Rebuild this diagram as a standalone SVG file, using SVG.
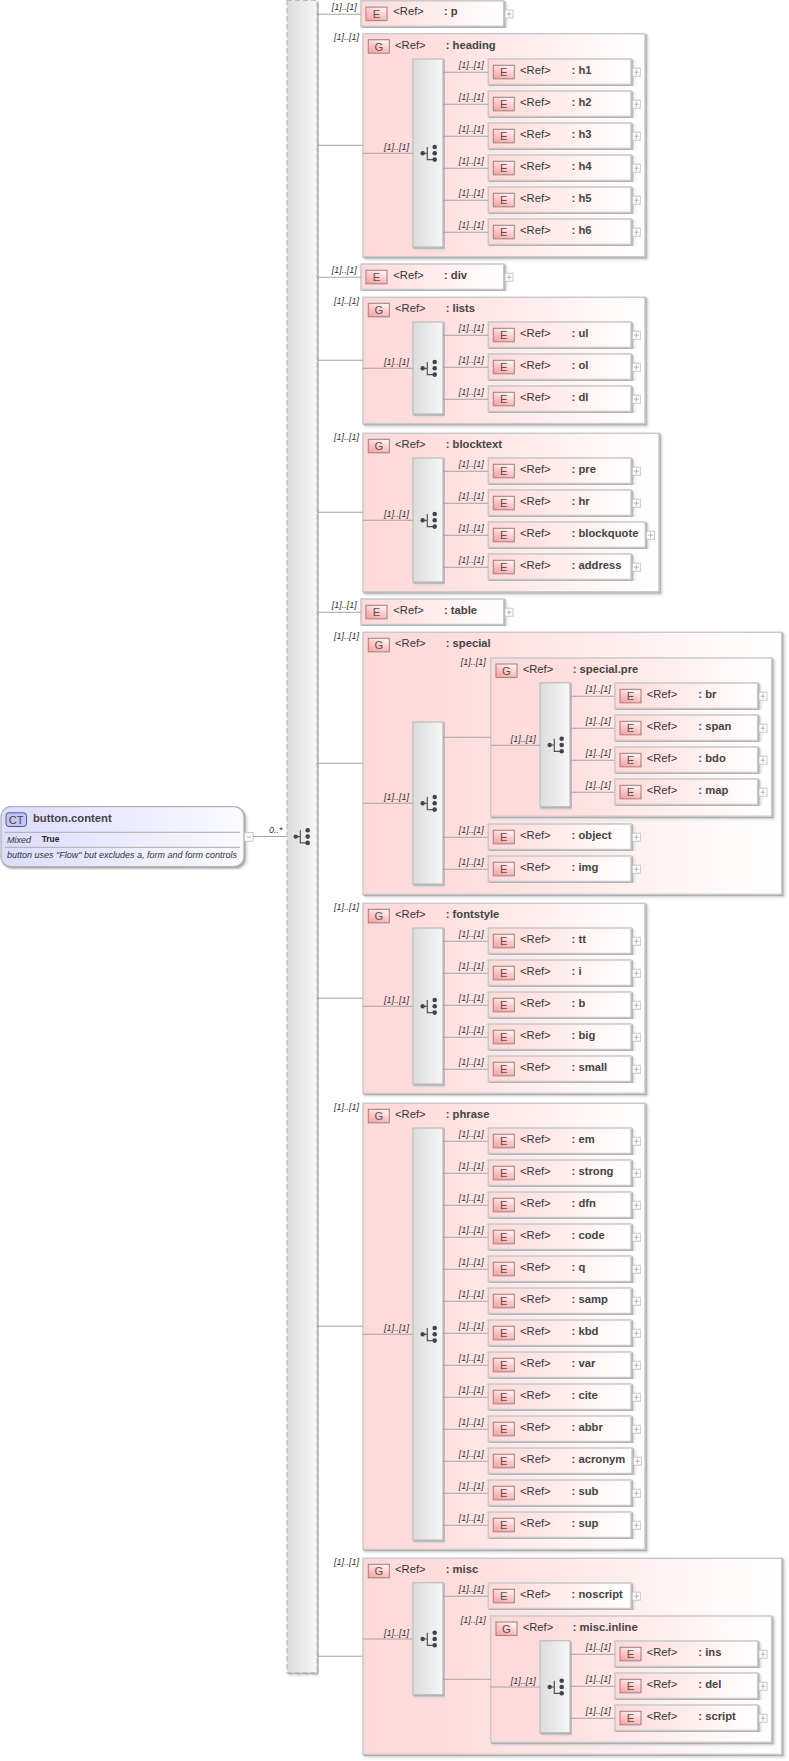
<svg xmlns="http://www.w3.org/2000/svg" width="789" height="1761" viewBox="0 0 789 1761">
<style>
text{font-family:"Liberation Sans",Arial,sans-serif}
.rf{font-size:11.24px;fill:#333}
.nm{font-size:11.24px;font-weight:bold;fill:#444}
.ic{font-size:11.24px;fill:#555;text-anchor:middle}
.m{font-size:9px;font-style:italic;fill:#333}
.conn{fill:none;stroke:#a4a4a4;stroke-width:1.1}
.box{fill:url(#pink);stroke:#c8c8c8;stroke-width:1.5;filter:url(#sh)}
.grp{fill:url(#pinkG);stroke:#cacaca;stroke-width:1.5;filter:url(#sh)}
.seq{fill:url(#gray);stroke:#c0c0c0;stroke-width:1.3;filter:url(#sh)}
.icon{fill:url(#icn);stroke:#a08888;stroke-width:1.1}
.pl{fill:#fff;stroke:#c0c0c0;stroke-width:.9}
.pm{stroke:#b0b0b0;stroke-width:.9;fill:none}
.sep{stroke:#aaa;stroke-width:1}
</style>
<defs>
<linearGradient id="pink"><stop offset="0" stop-color="#ffd9d9"/><stop offset="1" stop-color="#fff"/></linearGradient>
<linearGradient id="pinkG"><stop offset="0" stop-color="#ffd9d9"/><stop offset=".2" stop-color="#ffdcdc"/><stop offset="1" stop-color="#fff"/></linearGradient>
<linearGradient id="gray"><stop offset="0" stop-color="#dcdcdc"/><stop offset="1" stop-color="#f6f6f6"/></linearGradient>
<linearGradient id="icn" x1=".1" y1="1" x2=".6" y2="0"><stop offset="0" stop-color="#ff9e9e"/><stop offset=".55" stop-color="#ffc8c8"/><stop offset="1" stop-color="#fff0f0"/></linearGradient>
<linearGradient id="blue"><stop offset="0" stop-color="#dcdcff"/><stop offset="1" stop-color="#fafaff"/></linearGradient>
<filter id="sh" x="-5%" y="-5%" width="110%" height="110%"><feDropShadow dx="1.2" dy="1.2" stdDeviation=".3" flood-color="#aaa"/><feDropShadow dx="1.5" dy="1.5" stdDeviation=".9" flood-color="#ddd"/></filter>
<g id="plus"><rect class="pl" x=".5" y=".5" width="8" height="8"/><path class="pm" d="M2 4.5H7M4.5 2V7"/></g>
<g id="eIcon"><rect class="icon" x="5" y="6.3" width="21" height="13.5"/></g>
<g id="el"><rect class="box" width="142.7" height="25.5"/><use href="#eIcon"/><use href="#plus" x="143.5" y="8.7"/></g>
<g id="elQ"><rect class="box" width="157" height="25.5"/><use href="#eIcon"/><use href="#plus" x="157.8" y="8.7"/></g>
<g id="elA"><rect class="box" width="143.7" height="25.5"/><use href="#eIcon"/><use href="#plus" x="144.5" y="8.7"/></g>
<g id="comp" fill="#444"><path d="M9.7 .3H14.3M14.3 -6V6.6H21.7" fill="none" stroke="#555" stroke-width="1.2"/><circle cx="9.7" cy=".3" r="2.2"/><circle cx="21.7" cy="-6" r="2.3"/><circle cx="21.7" cy=".3" r="2.3"/><circle cx="21.7" cy="6.6" r="2.3"/></g>
</defs>

<g id="root-node">
<rect x="1" y="806.7" width="243" height="60" rx="10" fill="url(#blue)" stroke="#b4b4b4" stroke-width="1.3" filter="url(#sh)"/>
<rect x="6" y="812.8" width="20.5" height="13.7" rx="3" fill="#c4c4f6" stroke="#555580" stroke-width="1"/>
<text x="16.2" y="823.6" font-size="11.24" fill="#444" text-anchor="middle">CT</text>
<text x="33" y="821.5" font-size="11.24" font-weight="bold" fill="#444">button.content</text>
<path class="sep" d="M5 832.3H240M5 847.3H240"/>
<text x="7" y="842.8" font-size="9" font-style="italic" fill="#333">Mixed</text>
<text x="41.7" y="842" font-size="8.4" font-weight="bold" fill="#222">True</text>
<text x="7" y="857.8" font-size="9" font-style="italic" fill="#333">button uses "Flow" but excludes a, form and form controls</text>
<rect x="244.5" y="832.7" width="8.5" height="8.5" fill="#fff" stroke="#c0c0c0" stroke-width=".9"/>
<path class="pm" d="M246.5 837H251"/>
</g>

<g id="seq-main"><rect class="seq" x="287" y=".3" width="30" height="1672.4" stroke-dasharray="5 3"/><use href="#comp" x="286" y="836.3"/></g>

<g id="el-p" transform="translate(361,.8)"><use href="#el"/><text class="ic" x="15.5" y="17">E</text><text class="rf" x="32.3" y="14.5">&lt;Ref&gt;</text><text class="nm" x="83" y="14.5">: p</text></g>

<g id="grp-heading" transform="translate(363,33.7)"><rect class="grp" width="282" height="223"/><rect class="icon" x="5.3" y="6" width="21" height="13.5"/><text class="ic" x="15.8" y="17">G</text><text class="rf" x="32" y="15">&lt;Ref&gt;</text><text class="nm" x="82.7" y="15">: heading</text></g>
<g id="seq-heading" transform="translate(413,59)"><rect class="seq" width="30" height="188"/><use href="#comp" y="94"/></g>
<g id="el-h1" transform="translate(488.3,59)"><use href="#el"/><text class="ic" x="15.5" y="17">E</text><text class="rf" x="31.7" y="15">&lt;Ref&gt;</text><text class="nm" x="83.3" y="15">: h1</text></g>
<g id="el-h2" transform="translate(488.3,91)"><use href="#el"/><text class="ic" x="15.5" y="17">E</text><text class="rf" x="31.7" y="15">&lt;Ref&gt;</text><text class="nm" x="83.3" y="15">: h2</text></g>
<g id="el-h3" transform="translate(488.3,123)"><use href="#el"/><text class="ic" x="15.5" y="17">E</text><text class="rf" x="31.7" y="15">&lt;Ref&gt;</text><text class="nm" x="83.3" y="15">: h3</text></g>
<g id="el-h4" transform="translate(488.3,155)"><use href="#el"/><text class="ic" x="15.5" y="17">E</text><text class="rf" x="31.7" y="15">&lt;Ref&gt;</text><text class="nm" x="83.3" y="15">: h4</text></g>
<g id="el-h5" transform="translate(488.3,187)"><use href="#el"/><text class="ic" x="15.5" y="17">E</text><text class="rf" x="31.7" y="15">&lt;Ref&gt;</text><text class="nm" x="83.3" y="15">: h5</text></g>
<g id="el-h6" transform="translate(488.3,219)"><use href="#el"/><text class="ic" x="15.5" y="17">E</text><text class="rf" x="31.7" y="15">&lt;Ref&gt;</text><text class="nm" x="83.3" y="15">: h6</text></g>

<g id="el-div" transform="translate(361,264)"><use href="#el"/><text class="ic" x="15.5" y="17">E</text><text class="rf" x="32.3" y="14.5">&lt;Ref&gt;</text><text class="nm" x="83" y="14.5">: div</text></g>

<g id="grp-lists" transform="translate(363,297.3)"><rect class="grp" width="282" height="126.3"/><rect class="icon" x="5.3" y="6" width="21" height="13.5"/><text class="ic" x="15.8" y="17">G</text><text class="rf" x="32" y="15">&lt;Ref&gt;</text><text class="nm" x="82.7" y="15">: lists</text></g>
<g id="seq-lists" transform="translate(413,322)"><rect class="seq" width="30" height="92"/><use href="#comp" y="46"/></g>
<g id="el-ul" transform="translate(488.3,322)"><use href="#el"/><text class="ic" x="15.5" y="17">E</text><text class="rf" x="31.7" y="15">&lt;Ref&gt;</text><text class="nm" x="83.3" y="15">: ul</text></g>
<g id="el-ol" transform="translate(488.3,354)"><use href="#el"/><text class="ic" x="15.5" y="17">E</text><text class="rf" x="31.7" y="15">&lt;Ref&gt;</text><text class="nm" x="83.3" y="15">: ol</text></g>
<g id="el-dl" transform="translate(488.3,386)"><use href="#el"/><text class="ic" x="15.5" y="17">E</text><text class="rf" x="31.7" y="15">&lt;Ref&gt;</text><text class="nm" x="83.3" y="15">: dl</text></g>

<g id="grp-blocktext" transform="translate(363,433.3)"><rect class="grp" width="296" height="158.5"/><rect class="icon" x="5.3" y="6" width="21" height="13.5"/><text class="ic" x="15.8" y="17">G</text><text class="rf" x="32" y="15">&lt;Ref&gt;</text><text class="nm" x="82.7" y="15">: blocktext</text></g>
<g id="seq-blocktext" transform="translate(413,458)"><rect class="seq" width="30" height="124"/><use href="#comp" y="62"/></g>
<g id="el-pre" transform="translate(488.3,458)"><use href="#el"/><text class="ic" x="15.5" y="17">E</text><text class="rf" x="31.7" y="15">&lt;Ref&gt;</text><text class="nm" x="83.3" y="15">: pre</text></g>
<g id="el-hr" transform="translate(488.3,490)"><use href="#el"/><text class="ic" x="15.5" y="17">E</text><text class="rf" x="31.7" y="15">&lt;Ref&gt;</text><text class="nm" x="83.3" y="15">: hr</text></g>
<g id="el-blockquote" transform="translate(488.3,522)"><use href="#elQ"/><text class="ic" x="15.5" y="17">E</text><text class="rf" x="31.7" y="15">&lt;Ref&gt;</text><text class="nm" x="83.3" y="15">: blockquote</text></g>
<g id="el-address" transform="translate(488.3,554)"><use href="#el"/><text class="ic" x="15.5" y="17">E</text><text class="rf" x="31.7" y="15">&lt;Ref&gt;</text><text class="nm" x="83.3" y="15">: address</text></g>

<g id="el-table" transform="translate(361,599)"><use href="#el"/><text class="ic" x="15.5" y="17">E</text><text class="rf" x="32.3" y="14.5">&lt;Ref&gt;</text><text class="nm" x="83" y="14.5">: table</text></g>

<g id="grp-special" transform="translate(363,632.3)"><rect class="grp" width="418.7" height="262"/><rect class="icon" x="5.3" y="6" width="21" height="13.5"/><text class="ic" x="15.8" y="17">G</text><text class="rf" x="32" y="15">&lt;Ref&gt;</text><text class="nm" x="82.7" y="15">: special</text></g>
<g id="seq-special" transform="translate(413,722)"><rect class="seq" width="30" height="162"/><use href="#comp" y="81"/></g>
<g id="grp-special-pre" transform="translate(490.7,658)"><rect class="grp" width="281" height="158.3"/><rect class="icon" x="5.3" y="6" width="21" height="13.5"/><text class="ic" x="15.8" y="17">G</text><text class="rf" x="32" y="15">&lt;Ref&gt;</text><text class="nm" x="82" y="15">: special.pre</text></g>
<g id="seq-special-pre" transform="translate(540,682.7)"><rect class="seq" width="30" height="124"/><use href="#comp" y="62"/></g>
<g id="el-br" transform="translate(615,683)"><use href="#el"/><text class="ic" x="15.5" y="17">E</text><text class="rf" x="31.7" y="15">&lt;Ref&gt;</text><text class="nm" x="83.3" y="15">: br</text></g>
<g id="el-span" transform="translate(615,715)"><use href="#el"/><text class="ic" x="15.5" y="17">E</text><text class="rf" x="31.7" y="15">&lt;Ref&gt;</text><text class="nm" x="83.3" y="15">: span</text></g>
<g id="el-bdo" transform="translate(615,747)"><use href="#el"/><text class="ic" x="15.5" y="17">E</text><text class="rf" x="31.7" y="15">&lt;Ref&gt;</text><text class="nm" x="83.3" y="15">: bdo</text></g>
<g id="el-map" transform="translate(615,779)"><use href="#el"/><text class="ic" x="15.5" y="17">E</text><text class="rf" x="31.7" y="15">&lt;Ref&gt;</text><text class="nm" x="83.3" y="15">: map</text></g>
<g id="el-object" transform="translate(488.3,824)"><use href="#el"/><text class="ic" x="15.5" y="17">E</text><text class="rf" x="31.7" y="15">&lt;Ref&gt;</text><text class="nm" x="83.3" y="15">: object</text></g>
<g id="el-img" transform="translate(488.3,856)"><use href="#el"/><text class="ic" x="15.5" y="17">E</text><text class="rf" x="31.7" y="15">&lt;Ref&gt;</text><text class="nm" x="83.3" y="15">: img</text></g>

<g id="grp-fontstyle" transform="translate(363,903.3)"><rect class="grp" width="282" height="190"/><rect class="icon" x="5.3" y="6" width="21" height="13.5"/><text class="ic" x="15.8" y="17">G</text><text class="rf" x="32" y="15">&lt;Ref&gt;</text><text class="nm" x="82.7" y="15">: fontstyle</text></g>
<g id="seq-fontstyle" transform="translate(413,928)"><rect class="seq" width="30" height="156"/><use href="#comp" y="78"/></g>
<g id="el-tt" transform="translate(488.3,928)"><use href="#el"/><text class="ic" x="15.5" y="17">E</text><text class="rf" x="31.7" y="15">&lt;Ref&gt;</text><text class="nm" x="83.3" y="15">: tt</text></g>
<g id="el-i" transform="translate(488.3,960)"><use href="#el"/><text class="ic" x="15.5" y="17">E</text><text class="rf" x="31.7" y="15">&lt;Ref&gt;</text><text class="nm" x="83.3" y="15">: i</text></g>
<g id="el-b" transform="translate(488.3,992)"><use href="#el"/><text class="ic" x="15.5" y="17">E</text><text class="rf" x="31.7" y="15">&lt;Ref&gt;</text><text class="nm" x="83.3" y="15">: b</text></g>
<g id="el-big" transform="translate(488.3,1024)"><use href="#el"/><text class="ic" x="15.5" y="17">E</text><text class="rf" x="31.7" y="15">&lt;Ref&gt;</text><text class="nm" x="83.3" y="15">: big</text></g>
<g id="el-small" transform="translate(488.3,1056)"><use href="#el"/><text class="ic" x="15.5" y="17">E</text><text class="rf" x="31.7" y="15">&lt;Ref&gt;</text><text class="nm" x="83.3" y="15">: small</text></g>

<g id="grp-phrase" transform="translate(363,1103.3)"><rect class="grp" width="282" height="446"/><rect class="icon" x="5.3" y="6" width="21" height="13.5"/><text class="ic" x="15.8" y="17">G</text><text class="rf" x="32" y="15">&lt;Ref&gt;</text><text class="nm" x="82.7" y="15">: phrase</text></g>
<g id="seq-phrase" transform="translate(413,1128)"><rect class="seq" width="30" height="412"/><use href="#comp" y="206"/></g>
<g id="el-em" transform="translate(488.3,1128)"><use href="#el"/><text class="ic" x="15.5" y="17">E</text><text class="rf" x="31.7" y="15">&lt;Ref&gt;</text><text class="nm" x="83.3" y="15">: em</text></g>
<g id="el-strong" transform="translate(488.3,1160)"><use href="#el"/><text class="ic" x="15.5" y="17">E</text><text class="rf" x="31.7" y="15">&lt;Ref&gt;</text><text class="nm" x="83.3" y="15">: strong</text></g>
<g id="el-dfn" transform="translate(488.3,1192)"><use href="#el"/><text class="ic" x="15.5" y="17">E</text><text class="rf" x="31.7" y="15">&lt;Ref&gt;</text><text class="nm" x="83.3" y="15">: dfn</text></g>
<g id="el-code" transform="translate(488.3,1224)"><use href="#el"/><text class="ic" x="15.5" y="17">E</text><text class="rf" x="31.7" y="15">&lt;Ref&gt;</text><text class="nm" x="83.3" y="15">: code</text></g>
<g id="el-q" transform="translate(488.3,1256)"><use href="#el"/><text class="ic" x="15.5" y="17">E</text><text class="rf" x="31.7" y="15">&lt;Ref&gt;</text><text class="nm" x="83.3" y="15">: q</text></g>
<g id="el-samp" transform="translate(488.3,1288)"><use href="#el"/><text class="ic" x="15.5" y="17">E</text><text class="rf" x="31.7" y="15">&lt;Ref&gt;</text><text class="nm" x="83.3" y="15">: samp</text></g>
<g id="el-kbd" transform="translate(488.3,1320)"><use href="#el"/><text class="ic" x="15.5" y="17">E</text><text class="rf" x="31.7" y="15">&lt;Ref&gt;</text><text class="nm" x="83.3" y="15">: kbd</text></g>
<g id="el-var" transform="translate(488.3,1352)"><use href="#el"/><text class="ic" x="15.5" y="17">E</text><text class="rf" x="31.7" y="15">&lt;Ref&gt;</text><text class="nm" x="83.3" y="15">: var</text></g>
<g id="el-cite" transform="translate(488.3,1384)"><use href="#el"/><text class="ic" x="15.5" y="17">E</text><text class="rf" x="31.7" y="15">&lt;Ref&gt;</text><text class="nm" x="83.3" y="15">: cite</text></g>
<g id="el-abbr" transform="translate(488.3,1416)"><use href="#el"/><text class="ic" x="15.5" y="17">E</text><text class="rf" x="31.7" y="15">&lt;Ref&gt;</text><text class="nm" x="83.3" y="15">: abbr</text></g>
<g id="el-acronym" transform="translate(488.3,1448)"><use href="#elA"/><text class="ic" x="15.5" y="17">E</text><text class="rf" x="31.7" y="15">&lt;Ref&gt;</text><text class="nm" x="83.3" y="15">: acronym</text></g>
<g id="el-sub" transform="translate(488.3,1480)"><use href="#el"/><text class="ic" x="15.5" y="17">E</text><text class="rf" x="31.7" y="15">&lt;Ref&gt;</text><text class="nm" x="83.3" y="15">: sub</text></g>
<g id="el-sup" transform="translate(488.3,1512)"><use href="#el"/><text class="ic" x="15.5" y="17">E</text><text class="rf" x="31.7" y="15">&lt;Ref&gt;</text><text class="nm" x="83.3" y="15">: sup</text></g>

<g id="grp-misc" transform="translate(363,1558.3)"><rect class="grp" width="418.7" height="196"/><rect class="icon" x="5.3" y="6" width="21" height="13.5"/><text class="ic" x="15.8" y="17">G</text><text class="rf" x="32" y="15">&lt;Ref&gt;</text><text class="nm" x="82.7" y="15">: misc</text></g>
<g id="seq-misc" transform="translate(413,1582.7)"><rect class="seq" width="30" height="112"/><use href="#comp" y="56"/></g>
<g id="el-noscript" transform="translate(488.3,1583)"><use href="#el"/><text class="ic" x="15.5" y="17">E</text><text class="rf" x="31.7" y="15">&lt;Ref&gt;</text><text class="nm" x="83.3" y="15">: noscript</text></g>
<g id="grp-misc-inline" transform="translate(490.7,1616)"><rect class="grp" width="281" height="126.3"/><rect class="icon" x="5.3" y="6" width="21" height="13.5"/><text class="ic" x="15.8" y="17">G</text><text class="rf" x="32" y="15">&lt;Ref&gt;</text><text class="nm" x="82" y="15">: misc.inline</text></g>
<g id="seq-misc-inline" transform="translate(540,1640.7)"><rect class="seq" width="30" height="92"/><use href="#comp" y="46"/></g>
<g id="el-ins" transform="translate(615,1641)"><use href="#el"/><text class="ic" x="15.5" y="17">E</text><text class="rf" x="31.7" y="15">&lt;Ref&gt;</text><text class="nm" x="83.3" y="15">: ins</text></g>
<g id="el-del" transform="translate(615,1673)"><use href="#el"/><text class="ic" x="15.5" y="17">E</text><text class="rf" x="31.7" y="15">&lt;Ref&gt;</text><text class="nm" x="83.3" y="15">: del</text></g>
<g id="el-script" transform="translate(615,1705)"><use href="#el"/><text class="ic" x="15.5" y="17">E</text><text class="rf" x="31.7" y="15">&lt;Ref&gt;</text><text class="nm" x="83.3" y="15">: script</text></g>

<g id="connectors">
<path class="conn" d="M253 836.5H287
M317 14.3H361M317 277.3H361M317 612.3H361
M317 145.3H363M317 360.3H363M317 512.3H363M317 763.3H363M317 998.3H363M317 1326.3H363M317 1656.3H363
M363 153.3H413M363 368.3H413M363 520.3H413M363 803.3H413M363 1006.3H413M363 1334.3H413M363 1639H413
M491 745.3H540M491 1687H540
M443 737.3H491M443 1679.3H491
M443 72.3H488M443 104.3H488M443 136.3H488M443 168.3H488M443 200.3H488M443 232.3H488
M443 335.3H488M443 367.3H488M443 399.3H488
M443 471.3H488M443 503.3H488M443 535.3H488M443 567.3H488
M443 837.3H488M443 869.3H488
M570 696.3H615M570 728.3H615M570 760.3H615M570 792.3H615
M443 941.3H488M443 973.3H488M443 1005.3H488M443 1037.3H488M443 1069.3H488
M443 1141.3H488M443 1173.3H488M443 1205.3H488M443 1237.3H488M443 1269.3H488M443 1301.3H488M443 1333.3H488M443 1365.3H488M443 1397.3H488M443 1429.3H488M443 1461.3H488M443 1493.3H488M443 1525.3H488
M443 1596.3H488
M570 1654.3H615M570 1686.3H615M570 1718.3H615"/>
<text class="m" x="269" y="832.7">0..*</text>
<text class="m" x="331.7" y="10.4">[1]..[1]</text>
<text class="m" x="334" y="40.4">[1]..[1]</text>
<text class="m" x="384" y="149.7">[1]..[1]</text>
<text class="m" x="458.7" y="68.4">[1]..[1]</text>
<text class="m" x="458.7" y="100.4">[1]..[1]</text>
<text class="m" x="458.7" y="132.4">[1]..[1]</text>
<text class="m" x="458.7" y="164.4">[1]..[1]</text>
<text class="m" x="458.7" y="196.4">[1]..[1]</text>
<text class="m" x="458.7" y="228.4">[1]..[1]</text>
<text class="m" x="331.7" y="273.4">[1]..[1]</text>
<text class="m" x="334" y="304">[1]..[1]</text>
<text class="m" x="384" y="364.7">[1]..[1]</text>
<text class="m" x="458.7" y="331.4">[1]..[1]</text>
<text class="m" x="458.7" y="363.4">[1]..[1]</text>
<text class="m" x="458.7" y="395.4">[1]..[1]</text>
<text class="m" x="334" y="440">[1]..[1]</text>
<text class="m" x="384" y="516.7">[1]..[1]</text>
<text class="m" x="458.7" y="467.4">[1]..[1]</text>
<text class="m" x="458.7" y="499.4">[1]..[1]</text>
<text class="m" x="458.7" y="531.4">[1]..[1]</text>
<text class="m" x="458.7" y="563.4">[1]..[1]</text>
<text class="m" x="331.7" y="608.4">[1]..[1]</text>
<text class="m" x="334" y="639">[1]..[1]</text>
<text class="m" x="384" y="799.7">[1]..[1]</text>
<text class="m" x="460.7" y="664.7">[1]..[1]</text>
<text class="m" x="510.7" y="741.7">[1]..[1]</text>
<text class="m" x="585.7" y="692.4">[1]..[1]</text>
<text class="m" x="585.7" y="724.4">[1]..[1]</text>
<text class="m" x="585.7" y="756.4">[1]..[1]</text>
<text class="m" x="585.7" y="788.4">[1]..[1]</text>
<text class="m" x="458.7" y="833.4">[1]..[1]</text>
<text class="m" x="458.7" y="865.4">[1]..[1]</text>
<text class="m" x="334" y="910">[1]..[1]</text>
<text class="m" x="384" y="1002.7">[1]..[1]</text>
<text class="m" x="458.7" y="937.4">[1]..[1]</text>
<text class="m" x="458.7" y="969.4">[1]..[1]</text>
<text class="m" x="458.7" y="1001.4">[1]..[1]</text>
<text class="m" x="458.7" y="1033.4">[1]..[1]</text>
<text class="m" x="458.7" y="1065.4">[1]..[1]</text>
<text class="m" x="334" y="1110">[1]..[1]</text>
<text class="m" x="384" y="1330.7">[1]..[1]</text>
<text class="m" x="458.7" y="1137.4">[1]..[1]</text>
<text class="m" x="458.7" y="1169.4">[1]..[1]</text>
<text class="m" x="458.7" y="1201.4">[1]..[1]</text>
<text class="m" x="458.7" y="1233.4">[1]..[1]</text>
<text class="m" x="458.7" y="1265.4">[1]..[1]</text>
<text class="m" x="458.7" y="1297.4">[1]..[1]</text>
<text class="m" x="458.7" y="1329.4">[1]..[1]</text>
<text class="m" x="458.7" y="1361.4">[1]..[1]</text>
<text class="m" x="458.7" y="1393.4">[1]..[1]</text>
<text class="m" x="458.7" y="1425.4">[1]..[1]</text>
<text class="m" x="458.7" y="1457.4">[1]..[1]</text>
<text class="m" x="458.7" y="1489.4">[1]..[1]</text>
<text class="m" x="458.7" y="1521.4">[1]..[1]</text>
<text class="m" x="334" y="1565">[1]..[1]</text>
<text class="m" x="384" y="1635.7">[1]..[1]</text>
<text class="m" x="458.7" y="1592.4">[1]..[1]</text>
<text class="m" x="460.7" y="1622.7">[1]..[1]</text>
<text class="m" x="510.7" y="1683.7">[1]..[1]</text>
<text class="m" x="585.7" y="1650.4">[1]..[1]</text>
<text class="m" x="585.7" y="1682.4">[1]..[1]</text>
<text class="m" x="585.7" y="1714.4">[1]..[1]</text>
</g>
</svg>
